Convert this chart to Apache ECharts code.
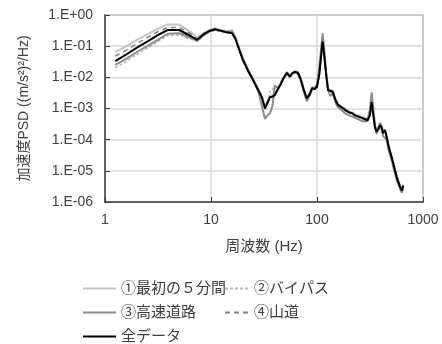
<!DOCTYPE html>
<html>
<head>
<meta charset="utf-8">
<script src="https://cdn.jsdelivr.net/npm/echarts@6/dist/echarts.min.js"></script>
<style>
  html, body { margin: 0; padding: 0; background: #fff; }
  #chart { width: 442px; height: 344px; }
</style>
</head>
<body>
<div id="chart"></div>
<script>
// 周波数 (Hz)
const freq = [
  1.25, 1.6, 2, 2.5, 3.15, 3.9, 5, 6.3, 7.4, 8.5, 9.5, 10.9, 12.5, 14, 15.8, 17, 18.5, 20,
  22.4, 25, 28, 30.2, 32.3, 34, 36, 38, 40, 42.5, 45, 48, 52, 55.6, 58, 61.7, 66, 70, 75,
  80, 85, 90, 95, 100, 105, 110, 113, 117, 122, 127, 133, 141, 150, 158, 170, 184, 200,
  215, 228, 245, 265, 284, 300, 315, 328, 340, 352, 365, 380, 395, 408, 420, 438, 455,
  471, 490, 510, 525, 545, 565, 590, 610, 630, 652
];

// ①最初の５分間
const first5min = [
  0.066, 0.1, 0.16, 0.24, 0.36, 0.5, 0.5, 0.3, 0.19, 0.26, 0.32, 0.37, 0.33, 0.3, 0.32, 0.2, 0.085, 0.04,
  0.018, 0.009, 0.0042, 0.0025, 0.0012, 0.0016, 0.0025, 0.0028, 0.003, 0.0042, 0.006, 0.0095, 0.015, 0.011, 0.014, 0.016, 0.015, 0.01, 0.0045,
  0.0023, 0.003, 0.0048, 0.0045, 0.0055, 0.013, 0.07, 0.16, 0.06, 0.013, 0.0042, 0.004, 0.0036, 0.002, 0.0014, 0.0012, 0.001, 0.0008,
  0.00075, 0.00065, 0.0006, 0.00055, 0.0005, 0.00048, 0.0007, 0.0019, 0.0007, 0.0003, 0.0002, 0.00026, 0.00033, 0.00028, 0.00018, 0.00022, 0.00013,
  7.5e-5, 4.5e-5, 2.8e-5, 1.9e-5, 1.1e-5, 7e-6, 4.5e-6, 3.3e-6, 2.6e-6, 3.6e-6
];

// ②バイパス
const bypass = [
  0.02, 0.033, 0.055, 0.085, 0.14, 0.22, 0.23, 0.17, 0.14, 0.21, 0.27, 0.32, 0.3, 0.3, 0.33, 0.18, 0.07, 0.034,
  0.015, 0.0075, 0.0036, 0.002, 0.0011, 0.0016, 0.0035, 0.0045, 0.0032, 0.0038, 0.0052, 0.0085, 0.013, 0.0098, 0.012, 0.014, 0.013, 0.0085, 0.0038,
  0.002, 0.0026, 0.0043, 0.004, 0.0048, 0.011, 0.05, 0.11, 0.045, 0.011, 0.0036, 0.0034, 0.0031, 0.0017, 0.0012, 0.001, 0.00085, 0.0007,
  0.00065, 0.00055, 0.0005, 0.00046, 0.00042, 0.0004, 0.00055, 0.0014, 0.0006, 0.00024, 0.00017, 0.0002, 0.00027, 0.00023, 0.00015, 0.00018, 0.00011,
  6e-5, 3.7e-5, 2.3e-5, 1.5e-5, 9e-6, 5.8e-6, 3.8e-6, 2.8e-6, 2.1e-6, 3e-6
];

// ③高速道路
const expressway = [
  0.025, 0.04, 0.065, 0.1, 0.16, 0.25, 0.26, 0.19, 0.15, 0.22, 0.29, 0.34, 0.3, 0.28, 0.29, 0.19, 0.08, 0.04,
  0.017, 0.008, 0.0035, 0.0012, 0.00046, 0.0006, 0.0007, 0.0012, 0.0055, 0.0045, 0.006, 0.009, 0.013, 0.011, 0.013, 0.015, 0.013, 0.008, 0.0035,
  0.0017, 0.0025, 0.004, 0.0045, 0.006, 0.02, 0.1, 0.26, 0.08, 0.015, 0.0045, 0.0025, 0.003, 0.0015, 0.0011, 0.0009, 0.0007, 0.0006,
  0.00055, 0.0005, 0.00045, 0.0004, 0.00038, 0.0004, 0.0009, 0.0033, 0.001, 0.0003, 0.00015, 0.00025, 0.00035, 0.0002, 0.00013, 0.00015, 0.0001,
  5e-5, 3.2e-5, 2e-5, 1.3e-5, 8e-6, 5e-6, 3.5e-6, 2.6e-6, 2e-6, 2.8e-6
];

// ④山道
const mountain = [
  0.048, 0.075, 0.12, 0.19, 0.29, 0.4, 0.4, 0.26, 0.17, 0.25, 0.31, 0.36, 0.32, 0.29, 0.28, 0.18, 0.078, 0.037,
  0.017, 0.0085, 0.004, 0.0024, 0.0011, 0.0014, 0.0022, 0.0024, 0.0028, 0.004, 0.0058, 0.0092, 0.0145, 0.0108, 0.0135, 0.0155, 0.0145, 0.0095, 0.0042,
  0.0022, 0.0029, 0.0046, 0.0043, 0.0052, 0.012, 0.065, 0.15, 0.055, 0.012, 0.004, 0.0038, 0.0035, 0.0019, 0.0013, 0.0011, 0.00095, 0.00078,
  0.00072, 0.00062, 0.00058, 0.00052, 0.00047, 0.00045, 0.00065, 0.0018, 0.00065, 0.00028, 0.00019, 0.00024, 0.00031, 0.00027, 0.00017, 0.00021, 0.00013,
  7e-5, 4.2e-5, 2.6e-5, 1.8e-5, 1.05e-5, 6.6e-6, 4.2e-6, 3.1e-6, 2.4e-6, 3.5e-6
];

// 全データ
const allData = [
  0.033, 0.055, 0.09, 0.14, 0.225, 0.33, 0.33, 0.22, 0.16, 0.24, 0.3, 0.35, 0.31, 0.28, 0.26, 0.17, 0.075, 0.036,
  0.016, 0.0081, 0.0038, 0.0023, 0.001, 0.0015, 0.0023, 0.0024, 0.0027, 0.004, 0.0056, 0.009, 0.014, 0.0104, 0.013, 0.015, 0.014, 0.009, 0.004,
  0.0021, 0.0028, 0.0045, 0.0042, 0.005, 0.012, 0.06, 0.14, 0.05, 0.012, 0.0039, 0.0037, 0.0034, 0.0018, 0.0013, 0.0011, 0.0009, 0.00075,
  0.0007, 0.0006, 0.00055, 0.0005, 0.00045, 0.00042, 0.0006, 0.0016, 0.0006, 0.00025, 0.00018, 0.00022, 0.00029, 0.00025, 0.00016, 0.0002, 0.00012,
  6.6e-5, 4e-5, 2.5e-5, 1.7e-5, 1.0e-5, 6.3e-6, 4e-6, 3e-6, 2.3e-6, 3.4e-6
];

const xTickLabels = { 1: "1", 10: "10", 100: "100", 1000: "1000" };

const font = '"Liberation Sans", "Noto Sans CJK JP", sans-serif';
const textColor = "#404040";

const pair = (vals) => freq.map((f, i) => [f, vals[i]]);

const yLabel = (v) => {
  const e = Math.round(Math.log10(v));
  const s = e < 0 ? "-" : "+";
  return "1.E" + s + String(Math.abs(e)).padStart(2, "0");
};

const lineSeries = (name, vals, color, width, type) => ({
  name: name,
  type: "line",
  data: pair(vals),
  symbol: "none",
  showSymbol: false,
  lineStyle: { color: color, width: width, type: type },
  itemStyle: { color: color },
  emphasis: { disabled: true },
});

// 凡例は1項目ずつ置く
const legendItem = (name, left, top, w) => ({
  data: [name],
  left: left,
  top: top,
  padding: 0,
  itemWidth: w,
  itemHeight: 14,
  itemStyle: { opacity: 0 },
  selectedMode: false,
  textStyle: { fontFamily: font, fontSize: 15, color: textColor },
});

const option = {
  animation: false,
  grid: {
    left: 105,
    top: 15,
    right: 19,
    bottom: 142,
    show: true,
    borderColor: "#808080",
    borderWidth: 1.5,
  },
  legend: [
    legendItem("①最初の５分間", 82, 281, 33),
    legendItem("②バイパス", 224, 281, 24),
    legendItem("③高速道路", 82, 305, 33),
    legendItem("④山道", 224, 305, 24),
    legendItem("全データ", 82, 329, 33),
  ],
  xAxis: {
    type: "log",
    logBase: 10,
    min: 1,
    max: 1000,
    splitNumber: 3,
    name: "周波数 (Hz)",
    nameLocation: "middle",
    nameGap: 37,
    nameTextStyle: { fontFamily: font, fontSize: 15, color: textColor },
    axisLine: { lineStyle: { color: "#404040", width: 1.5 } },
    axisTick: { inside: true, length: 5, lineStyle: { color: "#404040" } },
    axisLabel: {
      fontFamily: font,
      fontSize: 14,
      color: textColor,
      margin: 11,
      formatter: (v) => xTickLabels[Math.round(v)] || "",
    },
    splitLine: { lineStyle: { color: "#d9d9d9", width: 1.5 } },
    minorTick: { show: false },
  },
  yAxis: {
    type: "log",
    logBase: 10,
    min: 1e-6,
    max: 1,
    splitNumber: 6,
    name: "加速度PSD ((m/s²)²/Hz)",
    nameLocation: "middle",
    nameGap: 74,
    nameTextStyle: { fontFamily: font, fontSize: 14, color: textColor },
    axisLine: { lineStyle: { color: "#404040", width: 1.5 } },
    axisTick: { inside: true, length: 5, lineStyle: { color: "#404040" } },
    axisLabel: {
      fontFamily: font,
      fontSize: 14,
      color: textColor,
      margin: 12,
      formatter: yLabel,
    },
    splitLine: { lineStyle: { color: "#d9d9d9", width: 1.5 } },
  },
  series: [
    lineSeries("①最初の５分間", first5min, "#c4c4c4", 2, "solid"),
    lineSeries("②バイパス", bypass, "#b8b8b8", 1.5, [3, 2]),
    lineSeries("③高速道路", expressway, "#8c8c8c", 2, "solid"),
    lineSeries("④山道", mountain, "#808080", 1.5, [5, 4]),
    lineSeries("全データ", allData, "#000000", 2, "solid"),
  ],
};

const myChart = echarts.init(document.getElementById("chart"));
myChart.setOption(option);
</script>
</body>
</html>
